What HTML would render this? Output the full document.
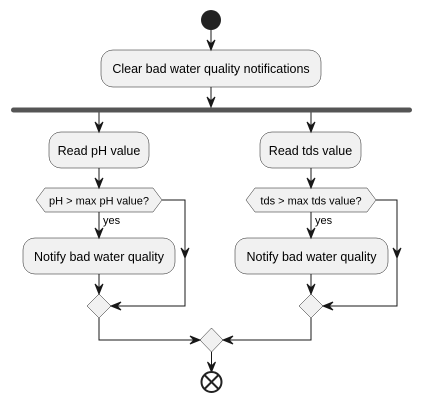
<!DOCTYPE html>
<html><head><meta charset="utf-8"><style>
html,body{margin:0;padding:0;background:#fff;}
svg{display:block;}
text{font-family:"Liberation Sans","DejaVu Sans",sans-serif;font-size:12.5px;fill:#000;}
</style></head><body>
<svg width="423" height="402" viewBox="0 0 423 402" xmlns="http://www.w3.org/2000/svg">
<defs>
<g id="ad"><polygon points="-4,-10 0,0 4,-10 0,-6" fill="#181818" stroke="#181818" stroke-width="1"/></g>
<g id="ar"><polygon points="-10,-4 0,0 -10,4 -6,0" fill="#181818" stroke="#181818" stroke-width="1"/></g>
<g id="al"><polygon points="10,-4 0,0 10,4 6,0" fill="#181818" stroke="#181818" stroke-width="1"/></g>
</defs>
<g stroke="#181818" stroke-width="1" fill="none">
<line x1="211" y1="30" x2="211" y2="50"/>
<line x1="211" y1="87" x2="211" y2="107"/>
<line x1="99" y1="112" x2="99" y2="132"/>
<line x1="311" y1="112" x2="311" y2="132"/>
<line x1="99" y1="168" x2="99" y2="188"/>
<line x1="311" y1="168" x2="311" y2="188"/>
<line x1="99" y1="212" x2="99" y2="238"/>
<line x1="311" y1="212" x2="311" y2="238"/>
<line x1="99" y1="274" x2="99" y2="294"/>
<line x1="311" y1="274" x2="311" y2="294"/>
<polyline points="162,200 185,200 185,306 111,306"/>
<polyline points="376,200 397,200 397,306 323,306"/>
<polyline points="99,318 99,340 200,340"/>
<polyline points="311,318 311,340 223,340"/>
<line x1="211.5" y1="352" x2="211.5" y2="372"/>
</g>
<circle cx="211" cy="20" r="10" fill="#222"/>
<rect x="101" y="50" width="220" height="37" rx="12" fill="#f1f1f1" stroke="#181818" stroke-width="0.5"/>
<text x="211" y="73" text-anchor="middle">Clear bad water quality notifications</text>
<rect x="11" y="107.5" width="401" height="5" rx="2.5" fill="#555"/>
<rect x="49" y="132" width="100" height="36" rx="12" fill="#f1f1f1" stroke="#181818" stroke-width="0.5"/>
<text x="99" y="155" text-anchor="middle">Read pH value</text>
<rect x="260" y="132" width="101" height="36" rx="12" fill="#f1f1f1" stroke="#181818" stroke-width="0.5"/>
<text x="310.5" y="155" text-anchor="middle">Read tds value</text>
<polygon points="36,200 45,188 153,188 162,200 153,212 45,212" fill="#f1f1f1" stroke="#181818" stroke-width="0.5"/>
<text x="99" y="204.5" text-anchor="middle" style="font-size:11px">pH &gt; max pH value?</text>
<polygon points="246,200 255,188 367,188 376,200 367,212 255,212" fill="#f1f1f1" stroke="#181818" stroke-width="0.5"/>
<text x="311" y="204.5" text-anchor="middle" style="font-size:11px">tds &gt; max tds value?</text>
<text x="103" y="224" style="font-size:11px">yes</text>
<text x="315" y="224" style="font-size:11px">yes</text>
<rect x="23" y="238" width="152" height="36" rx="12" fill="#f1f1f1" stroke="#181818" stroke-width="0.5"/>
<text x="99" y="261" text-anchor="middle">Notify bad water quality</text>
<rect x="235" y="238" width="153" height="36" rx="12" fill="#f1f1f1" stroke="#181818" stroke-width="0.5"/>
<text x="311.5" y="261" text-anchor="middle">Notify bad water quality</text>
<polygon points="99,294 111,306 99,318 87,306" fill="#f1f1f1" stroke="#181818" stroke-width="0.5"/>
<polygon points="311,294 323,306 311,318 299,306" fill="#f1f1f1" stroke="#181818" stroke-width="0.5"/>
<polygon points="211.5,328 223,340 211.5,352 200,340" fill="#f1f1f1" stroke="#181818" stroke-width="0.5"/>
<use href="#ad" x="211" y="50"/>
<use href="#ad" x="211" y="107"/>
<use href="#ad" x="99" y="132"/>
<use href="#ad" x="311" y="132"/>
<use href="#ad" x="99" y="188"/>
<use href="#ad" x="311" y="188"/>
<use href="#ad" x="99" y="238"/>
<use href="#ad" x="311" y="238"/>
<use href="#ad" x="185" y="258"/>
<use href="#ad" x="397" y="258"/>
<use href="#ad" x="99" y="294"/>
<use href="#ad" x="311" y="294"/>
<use href="#al" x="111" y="306"/>
<use href="#al" x="323" y="306"/>
<use href="#ar" x="200" y="340"/>
<use href="#al" x="223" y="340"/>
<use href="#ad" x="211.5" y="372"/>
<circle cx="211.5" cy="382" r="10" fill="#fff" stroke="#222" stroke-width="2"/>
<line x1="204.5" y1="375" x2="218.5" y2="389" stroke="#222" stroke-width="2"/>
<line x1="218.5" y1="375" x2="204.5" y2="389" stroke="#222" stroke-width="2"/>
</svg>
</body></html>
